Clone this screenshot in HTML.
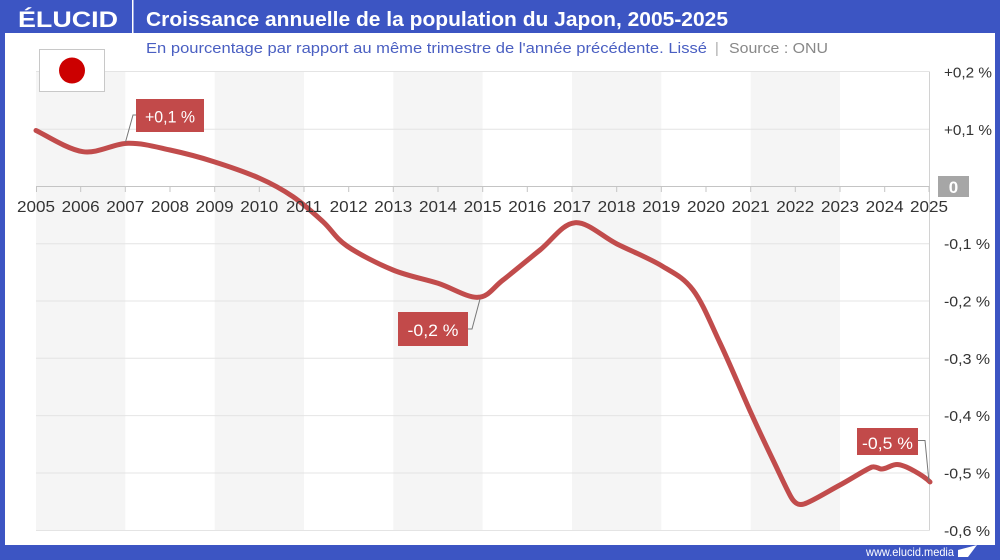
<!DOCTYPE html>
<html><head><meta charset="utf-8"><style>
html,body{margin:0;padding:0;background:#fff;}
svg{display:block;}
text{font-family:"Liberation Sans",Arial,sans-serif;}
</style></head><body>
<svg width="1000" height="560" viewBox="0 0 1000 560" xmlns="http://www.w3.org/2000/svg">
<!-- frame -->
<rect x="0" y="0" width="1000" height="560" fill="#3c55c3"/>
<rect x="5" y="33" width="990" height="512" fill="#ffffff"/>
<!-- header -->
<text x="18" y="27" font-size="22" font-weight="bold" fill="#fff" textLength="100" lengthAdjust="spacingAndGlyphs">ÉLUCID</text>
<rect x="132" y="0" width="1.5" height="33" fill="#fff"/>
<text x="146" y="26" font-size="20" font-weight="bold" fill="#fff" textLength="582" lengthAdjust="spacingAndGlyphs">Croissance annuelle de la population du Japon, 2005-2025</text>
<text x="146" y="53" font-size="14.5" fill="#4a5fc2" textLength="561" lengthAdjust="spacingAndGlyphs">En pourcentage par rapport au même trimestre de l'année précédente. Lissé</text>
<text x="715" y="53" font-size="14.5" fill="#aaa">|</text>
<text x="729" y="53" font-size="14.5" fill="#888" textLength="99" lengthAdjust="spacingAndGlyphs">Source : ONU</text>
<!-- bands -->
<g fill="#f5f5f5">
<rect x="36" y="72" width="89.3" height="458"/>
<rect x="214.7" y="72" width="89.3" height="458"/>
<rect x="393.3" y="72" width="89.3" height="458"/>
<rect x="572" y="72" width="89.3" height="458"/>
<rect x="750.7" y="72" width="89.3" height="458"/>
</g>
<!-- grid -->
<g stroke="#e4e4e4" stroke-width="1">
<line x1="36" y1="71.5" x2="929" y2="71.5"/>
<line x1="36" y1="129.3" x2="929" y2="129.3"/>
<line x1="36" y1="243.7" x2="929" y2="243.7"/>
<line x1="36" y1="301" x2="929" y2="301"/>
<line x1="36" y1="358.3" x2="929" y2="358.3"/>
<line x1="36" y1="415.6" x2="929" y2="415.6"/>
<line x1="36" y1="473" x2="929" y2="473"/>
<line x1="36" y1="530.5" x2="929" y2="530.5"/>
</g>
<line x1="929.5" y1="71.5" x2="929.5" y2="530.5" stroke="#d2d2d2" stroke-width="1"/>
<!-- flag -->
<rect x="39.5" y="49.5" width="65" height="42" fill="#fff" stroke="#c8c8c8" stroke-width="1"/>
<circle cx="72" cy="70.5" r="13" fill="#cc0000"/>
<!-- zero axis -->
<g stroke="#c4c4c4" stroke-width="1">
<line x1="36" y1="186.5" x2="929" y2="186.5"/>
<line x1="36.5" y1="186" x2="36.5" y2="192"/>
<line x1="80.7" y1="186" x2="80.7" y2="192"/>
<line x1="125.3" y1="186" x2="125.3" y2="192"/>
<line x1="170" y1="186" x2="170" y2="192"/>
<line x1="214.7" y1="186" x2="214.7" y2="192"/>
<line x1="259.3" y1="186" x2="259.3" y2="192"/>
<line x1="304" y1="186" x2="304" y2="192"/>
<line x1="348.7" y1="186" x2="348.7" y2="192"/>
<line x1="393.3" y1="186" x2="393.3" y2="192"/>
<line x1="438" y1="186" x2="438" y2="192"/>
<line x1="482.7" y1="186" x2="482.7" y2="192"/>
<line x1="527.3" y1="186" x2="527.3" y2="192"/>
<line x1="572" y1="186" x2="572" y2="192"/>
<line x1="616.7" y1="186" x2="616.7" y2="192"/>
<line x1="661.3" y1="186" x2="661.3" y2="192"/>
<line x1="706" y1="186" x2="706" y2="192"/>
<line x1="750.7" y1="186" x2="750.7" y2="192"/>
<line x1="795.3" y1="186" x2="795.3" y2="192"/>
<line x1="840" y1="186" x2="840" y2="192"/>
<line x1="884.7" y1="186" x2="884.7" y2="192"/>
<line x1="929" y1="186" x2="929" y2="192"/>
</g>
<!-- series -->
<path fill="none" stroke="#c14c4c" stroke-width="5" stroke-linecap="round" stroke-linejoin="round" d="M36,130.5 C43.8,134 67.7,149.6 83,151.7 C98.3,153.8 113.5,143.6 128,143.3 C142.5,143 155.7,146.9 170,150 C184.3,153.1 199.2,157 214,161.7 C228.8,166.4 245.8,172.2 259,178 C272.2,183.8 282.3,189.4 293,196.7 C303.7,204 314,213.5 323,221.7 C332,229.9 335.3,238 347,246 C358.7,254.1 377.8,263.8 393,270 C408.2,276.2 423.8,278.8 438,283.3 C452.2,287.9 467.2,297.9 478,297.3 C488.8,296.8 492.7,287.9 503,280 C513.3,272.1 528,259.6 540,250 C552,240.4 562.2,223.7 575,222.7 C587.8,221.7 602.5,236.8 617,244 C631.5,251.2 649.3,258.3 662,266 C674.7,273.7 683.3,277.2 693,290 C702.7,302.8 710.3,322.5 720,343 C729.7,363.5 742.2,393.5 751,413 C759.8,432.5 766,445.5 773,460 C780,474.5 786,488 791,497 C795,504 799,505.5 804,504 C812,501.5 828.3,491.2 840,485 C851.5,478.8 865.2,469.7 872,467 C876,466 878,468.5 881,469 C886,469.5 891,464.5 897,464.5 C905,464.5 924,476 930,482"/>
<!-- year labels -->
<g font-size="15.5" fill="#333" text-anchor="middle">
<text x="36" y="212" textLength="38" lengthAdjust="spacingAndGlyphs">2005</text>
<text x="80.7" y="212" textLength="38" lengthAdjust="spacingAndGlyphs">2006</text>
<text x="125.3" y="212" textLength="38" lengthAdjust="spacingAndGlyphs">2007</text>
<text x="170" y="212" textLength="38" lengthAdjust="spacingAndGlyphs">2008</text>
<text x="214.7" y="212" textLength="38" lengthAdjust="spacingAndGlyphs">2009</text>
<text x="259.3" y="212" textLength="38" lengthAdjust="spacingAndGlyphs">2010</text>
<text x="304" y="212" textLength="36" lengthAdjust="spacingAndGlyphs">2011</text>
<text x="348.7" y="212" textLength="38" lengthAdjust="spacingAndGlyphs">2012</text>
<text x="393.3" y="212" textLength="38" lengthAdjust="spacingAndGlyphs">2013</text>
<text x="438" y="212" textLength="38" lengthAdjust="spacingAndGlyphs">2014</text>
<text x="482.7" y="212" textLength="38" lengthAdjust="spacingAndGlyphs">2015</text>
<text x="527.3" y="212" textLength="38" lengthAdjust="spacingAndGlyphs">2016</text>
<text x="572" y="212" textLength="38" lengthAdjust="spacingAndGlyphs">2017</text>
<text x="616.7" y="212" textLength="38" lengthAdjust="spacingAndGlyphs">2018</text>
<text x="661.3" y="212" textLength="38" lengthAdjust="spacingAndGlyphs">2019</text>
<text x="706" y="212" textLength="38" lengthAdjust="spacingAndGlyphs">2020</text>
<text x="750.7" y="212" textLength="38" lengthAdjust="spacingAndGlyphs">2021</text>
<text x="795.3" y="212" textLength="38" lengthAdjust="spacingAndGlyphs">2022</text>
<text x="840" y="212" textLength="38" lengthAdjust="spacingAndGlyphs">2023</text>
<text x="884.7" y="212" textLength="38" lengthAdjust="spacingAndGlyphs">2024</text>
<text x="929" y="212" textLength="38" lengthAdjust="spacingAndGlyphs">2025</text>
</g>
<!-- right axis labels -->
<g font-size="15" fill="#333">
<text x="944" y="77.5" textLength="48" lengthAdjust="spacingAndGlyphs">+0,2 %</text>
<text x="944" y="134.8" textLength="48" lengthAdjust="spacingAndGlyphs">+0,1 %</text>
<text x="944" y="249.2" textLength="46" lengthAdjust="spacingAndGlyphs">-0,1 %</text>
<text x="944" y="306.5" textLength="46" lengthAdjust="spacingAndGlyphs">-0,2 %</text>
<text x="944" y="363.8" textLength="46" lengthAdjust="spacingAndGlyphs">-0,3 %</text>
<text x="944" y="421.1" textLength="46" lengthAdjust="spacingAndGlyphs">-0,4 %</text>
<text x="944" y="478.5" textLength="46" lengthAdjust="spacingAndGlyphs">-0,5 %</text>
<text x="944" y="536" textLength="46" lengthAdjust="spacingAndGlyphs">-0,6 %</text>
</g>
<rect x="938" y="176" width="31" height="21" fill="#a6a6a6"/>
<text x="953.5" y="193" font-size="17" font-weight="bold" fill="#fff" text-anchor="middle">0</text>
<!-- annotations -->
<g fill="none" stroke="#777" stroke-width="1">
<polyline points="136,115 133,115 125.5,142"/>
<polyline points="468,329 472,329 480,299"/>
<polyline points="918,440.5 925,440.5 929,482"/>
</g>
<rect x="136" y="99" width="68" height="33" fill="#c24a4a"/>
<text x="170" y="122.5" font-size="17" fill="#fff" text-anchor="middle" textLength="50" lengthAdjust="spacingAndGlyphs">+0,1 %</text>
<rect x="398" y="312" width="70" height="34" fill="#c24a4a"/>
<text x="433" y="336" font-size="17" fill="#fff" text-anchor="middle" textLength="51" lengthAdjust="spacingAndGlyphs">-0,2 %</text>
<rect x="857" y="428" width="61" height="27" fill="#c24a4a"/>
<text x="887.5" y="449" font-size="17" fill="#fff" text-anchor="middle" textLength="51" lengthAdjust="spacingAndGlyphs">-0,5 %</text>
<!-- footer -->
<text x="866" y="556" font-size="12" fill="#fff" textLength="88" lengthAdjust="spacingAndGlyphs">www.elucid.media</text>
<polygon points="958,557 958,550 977,545 968,557" fill="#fff"/>
</svg>
</body></html>
